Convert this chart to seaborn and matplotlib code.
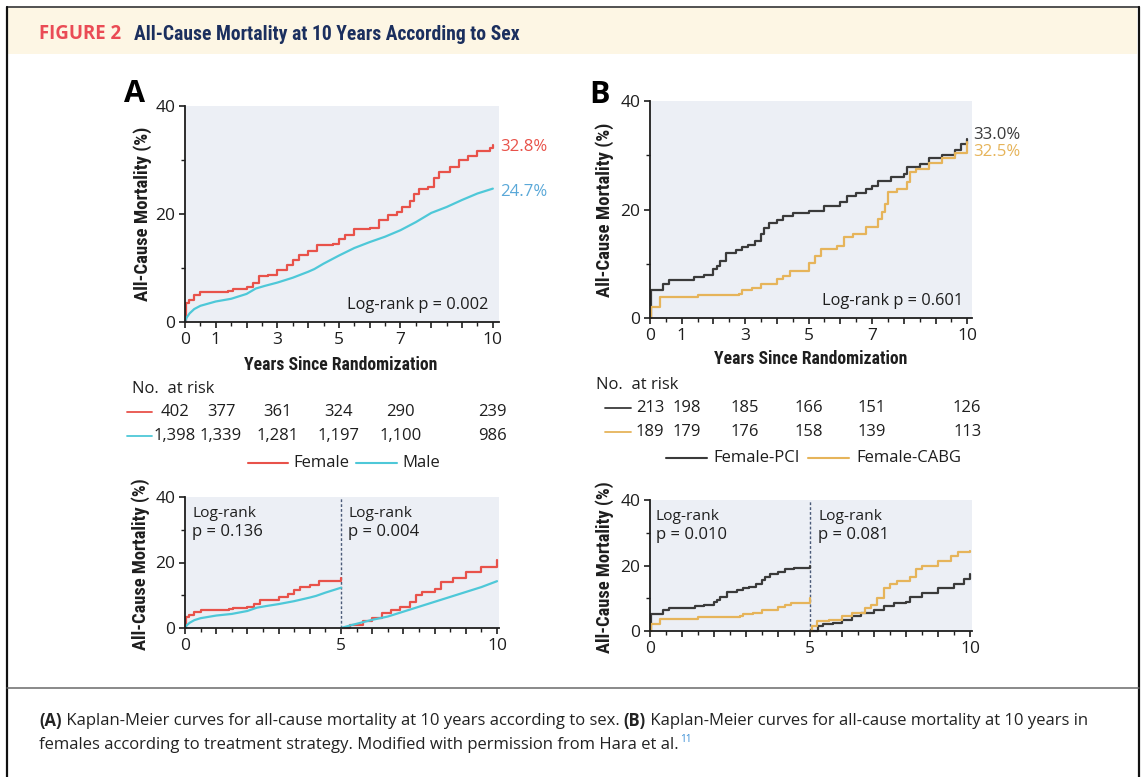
import numpy as np
import pandas as pd
import matplotlib
matplotlib.use("Agg")
import matplotlib.pyplot as plt
import matplotlib.transforms as mtrans
import seaborn as sns
from matplotlib import font_manager
from matplotlib.lines import Line2D
from matplotlib.patches import Rectangle
from matplotlib.ticker import FixedLocator, FixedFormatter

# ---------------------------------------------------------------- data
# Panel A: cumulative all-cause mortality (%) by sex, 0-10 years
female_years = [0, 0.03, 0.12, 0.3, 0.5, 1.0, 1.4, 1.55, 2.0, 2.2, 2.4, 2.7, 3.0, 3.3, 3.5,
                3.7, 4.0, 4.3, 4.8, 5.0, 5.2, 5.5, 6.0, 6.3, 6.6, 6.9, 7.05, 7.3, 7.45,
                7.6, 7.9, 8.1, 8.25, 8.6, 8.9, 9.2, 9.5, 9.9, 10.0]
female_mort = [0, 3.5, 4.0, 5.0, 5.5, 5.6, 5.8, 6.1, 6.5, 7.2, 8.5, 8.7, 9.6, 10.5, 11.5,
               12.5, 13.2, 14.2, 14.5, 15.3, 16.2, 17.2, 17.5, 18.8, 19.8, 20.4, 21.3, 22.5, 23.7,
               24.6, 25.0, 26.7, 27.8, 28.7, 30.0, 30.8, 31.7, 32.2, 32.8]
male_years = [0, 0.05, 0.15, 0.3, 0.5, 0.75, 1.0, 1.5, 2.0, 2.3, 2.6, 3.0, 3.5, 4.0, 4.2,
              4.5, 5.0, 5.5, 6.0, 6.5, 7.0, 7.5, 8.0, 8.5, 9.0, 9.5, 10.0]
male_mort = [0, 0.8, 1.6, 2.4, 3.0, 3.4, 3.8, 4.3, 5.2, 6.2, 6.7, 7.3, 8.2, 9.3, 9.8,
             10.8, 12.3, 13.7, 14.8, 15.8, 17.0, 18.5, 20.2, 21.3, 22.6, 23.8, 24.7]

# Panel B: females by treatment strategy, 0-10 years
pci_years = [0, 0.04, 0.4, 0.6, 1.4, 1.7, 2.0, 2.1, 2.2, 2.4, 2.7, 2.9, 3.1, 3.3, 3.5, 3.6,
             3.75, 4.0, 4.2, 4.5, 5.0, 5.5, 6.0, 6.2, 6.5, 6.8, 7.0, 7.2, 7.6, 8.0, 8.1,
             8.5, 8.8, 9.2, 9.6, 9.8, 10.0]
pci_mort = [0, 5.2, 6.3, 7.0, 7.5, 8.0, 9.0, 9.5, 10.5, 12.0, 12.5, 13.0, 13.5, 14.2, 15.5, 16.5,
            17.5, 18.0, 18.8, 19.3, 19.8, 20.6, 21.3, 22.5, 23.0, 23.7, 24.3, 25.2, 25.9, 26.5, 27.8,
            28.3, 29.5, 30.0, 31.0, 32.0, 33.0]
cabg_years = [0, 0.04, 0.3, 1.5, 2.8, 2.9, 3.2, 3.5, 4.0, 4.2, 4.4, 5.0, 5.2, 5.4, 5.9,
              6.1, 6.4, 6.8, 7.2, 7.3, 7.4, 7.5, 7.8, 8.1, 8.2, 8.4, 8.8, 9.2, 9.6, 10.0]
cabg_mort = [0, 2.0, 3.8, 4.3, 4.5, 5.2, 5.6, 6.3, 7.2, 7.8, 8.6, 10.2, 11.5, 12.8, 13.3,
             15.0, 15.5, 16.8, 18.2, 19.5, 21.0, 23.2, 23.8, 25.0, 27.0, 27.5, 28.5, 29.5, 30.5, 32.5]

# Landmark analysis: events restarted at year 5
female_late_years = [5.0, 5.3, 5.7, 6.0, 6.3, 6.6, 6.9, 7.2, 7.4, 7.6, 8.0, 8.2, 8.6, 9.0, 9.5, 10.0]
female_late_mort = [0, 1.0, 2.0, 3.0, 4.5, 5.5, 6.5, 8.0, 10.0, 11.0, 12.0, 14.0, 15.2, 17.0, 18.5, 20.7]
male_late_years = [5.0, 5.3, 6.0, 6.5, 7.0, 7.5, 8.0, 8.5, 9.0, 9.5, 10.0]
male_late_mort = [0, 0.8, 2.5, 3.5, 5.0, 6.5, 8.0, 9.5, 11.0, 12.5, 14.3]
pci_late_years = [5.0, 5.25, 5.4, 5.7, 6.0, 6.3, 6.6, 7.0, 7.3, 7.6, 8.0, 8.1, 8.5, 9.0, 9.5, 9.8, 10.0]
pci_late_mort = [0, 1.5, 2.0, 2.5, 3.5, 4.5, 5.5, 6.5, 7.5, 8.5, 9.0, 10.5, 11.5, 13.0, 14.5, 16.0, 17.3]
cabg_late_years = [5.0, 5.05, 5.2, 5.6, 6.0, 6.3, 6.7, 6.9, 7.1, 7.3, 7.5, 7.7, 8.1, 8.3, 8.5,
                   9.0, 9.4, 9.6, 10.0]
cabg_late_mort = [0, 1.5, 3.0, 3.5, 4.5, 5.5, 7.0, 8.0, 10.0, 13.0, 14.5, 15.3, 16.5, 19.0, 20.0,
                  21.5, 23.0, 24.0, 24.5]

# Numbers at risk
risk_years = [0, 1, 3, 5, 7, 10]
risk_female = [402, 377, 361, 324, 290, 239]
risk_male = [1398, 1339, 1281, 1197, 1100, 986]
risk_pci = [213, 198, 185, 166, 151, 126]
risk_cabg = [189, 179, 176, 158, 139, 113]

p_sex = "0.002"
p_treat = "0.601"
p_sex_landmark = ["0.136", "0.004"]
p_treat_landmark = ["0.010", "0.081"]

# ---------------------------------------------------------------- style
RED = "#e8524a"
CYAN = "#4ec8d8"
CYAN_TXT = "#5aa8d8"
DARK = "#3a3a3a"
GOLD = "#e6b45a"
BG = "#eceff5"
INK = "#1e1e1e"

sns.set_style("ticks")
available = {f.name for f in font_manager.fontManager.ttflist}


def pick(names, default):
    for n in names:
        if n in available:
            return n
    return default


BODY = pick(["Open Sans", "Noto Sans", "Lato", "Roboto"], "DejaVu Sans")
COND = pick(["Liberation Sans Narrow", "Roboto Condensed", "Open Sans Condensed"], BODY)
plt.rcParams["font.family"] = [BODY, "DejaVu Sans"]

W, H = 1142, 777
fig = plt.figure(figsize=(W / 100, H / 100), dpi=100)
fig.patch.set_facecolor("white")
renderer = fig.canvas.get_renderer()


def fx(x):
    return x / W


def fy(y):
    return 1 - y / H


def put(x, y, s, size, width=None, **kw):
    t = fig.text(fx(x), fy(y), s, fontsize=size, **kw)
    if width is not None:
        bb = t.get_window_extent(renderer)
        span = bb.height if kw.get("rotation", 0) == 90 else bb.width
        t.set_fontsize(size * width / span)
    return t


def put_runs(x, y, runs, size, width=None):
    def draw(sz):
        arts, cx = [], x
        for s, wgt, col in runs:
            t = fig.text(fx(cx), fy(y), s, fontsize=sz, fontweight=wgt, color=col,
                         family=[BODY, "DejaVu Sans"], ha="left", va="center")
            cx += t.get_window_extent(renderer).width
            arts.append(t)
        return arts, cx - x
    arts, total = draw(size)
    if width is None:
        return size, x + total
    for a in arts:
        a.remove()
    sz = size * width / total
    _, total = draw(sz)
    return sz, x + total


def axes_px(left, top, right, bottom):
    return fig.add_axes([fx(left), fy(bottom), (right - left) / W, (bottom - top) / H])


def style(ax, xmax, labeled):
    ax.set_facecolor(BG)
    ax.set_xlim(0, xmax)
    ax.set_ylim(0, 40)
    for s in ["top", "right"]:
        ax.spines[s].set_visible(False)
    for s in ["left", "bottom"]:
        ax.spines[s].set_linewidth(1.3)
        ax.spines[s].set_color(INK)
    ax.xaxis.set_major_locator(FixedLocator(list(range(11))))
    ax.xaxis.set_major_formatter(FixedFormatter([str(i) if i in labeled else "" for i in range(11)]))
    ax.xaxis.set_minor_locator(FixedLocator(list(np.arange(0.5, 10, 1.0))))
    ax.yaxis.set_major_locator(FixedLocator([0, 20, 40]))
    ax.yaxis.set_major_formatter(FixedFormatter(["0", "20", "40"]))
    ax.yaxis.set_minor_locator(FixedLocator([10, 30]))
    ax.tick_params(which="major", length=4.5, width=1.2, color=INK, labelsize=12.5,
                   labelcolor=INK, pad=2.5)
    ax.tick_params(which="minor", length=3, width=1.0, color=INK)
    ax.set_xlabel("")
    ax.set_ylabel("")


def curve(ax, years, mort, color, steps=True, lw=1.6):
    df = pd.DataFrame({"year": years, "mort": mort})
    kw = {"drawstyle": "steps-post"} if steps else {}
    sns.lineplot(data=df, x="year", y="mort", ax=ax, color=color, linewidth=lw,
                 errorbar=None, clip_on=False, **kw)
    ax.set_xlabel("")
    ax.set_ylabel("")


def upto5(years, mort):
    pairs = [(t, m) for t, m in zip(years, mort) if t <= 5.0]
    return [p[0] for p in pairs], [p[1] for p in pairs]


# ---------------------------------------------------------------- frame
fig.add_artist(Rectangle((fx(8), fy(54)), (1137 - 8) / W, (54 - 8) / H, transform=fig.transFigure,
                         facecolor="#fdf6e4", edgecolor="none", zorder=0))
for (x0, y0, x1, y1, c, lw) in [(7, 7, 1139, 7, "#555555", 2.0), (7, 7, 7, 777, "#111111", 2.2),
                                (1139, 7, 1139, 777, "#111111", 2.2), (7, 688, 1139, 688, "#666666", 1.5)]:
    fig.add_artist(Line2D([fx(x0), fx(x1)], [fy(y0), fy(y1)], transform=fig.transFigure,
                          color=c, linewidth=lw * 0.72))

put(39, 34, "FIGURE 2", 11, width=82, fontweight="bold", color="#ea4b55", va="center",
    family=[BODY, "DejaVu Sans"])
put(134, 34, "All-Cause Mortality at 10 Years According to Sex", 12, width=385,
    fontweight="bold", color="#1b2f5e", va="center", family=[COND, "DejaVu Sans"])

# ---------------------------------------------------------------- panel A (top)
axA = axes_px(185, 106, 499, 322)
style(axA, 10.2, [0, 1, 3, 5, 7, 10])
curve(axA, female_years, female_mort, RED)
curve(axA, male_years, male_mort, CYAN, steps=False)
put(135, 94, "A", 22, fontweight="bold", color="black", ha="center", va="center")
put(500, 147, f"{female_mort[-1]:.1f}%", 12.5, width=47, color=RED, va="center")
put(500, 192, f"{male_mort[-1]:.1f}%", 12.5, width=47, color=CYAN_TXT, va="center")
put(488, 305, f"Log-rank p = {p_sex}", 12, width=141, color=INK, ha="right", va="center")
put(341, 365, "Years Since Randomization", 12, width=193, fontweight="bold", color=INK,
    ha="center", va="center", family=[COND, "DejaVu Sans"])
put(143, 214, "All-Cause Mortality (%)", 12, width=175, fontweight="bold", color=INK,
    ha="center", va="center", rotation=90, family=[COND, "DejaVu Sans"])

# ---------------------------------------------------------------- panel B (top)
axB = axes_px(650, 101, 972, 318)
style(axB, 10.15, [0, 1, 3, 5, 7, 10])
curve(axB, pci_years, pci_mort, DARK)
curve(axB, cabg_years, cabg_mort, GOLD)
put(599, 95, "B", 22, fontweight="bold", color="black", ha="center", va="center")
put(973, 135, f"{pci_mort[-1]:.1f}%", 12.5, width=47, color=DARK, va="center")
put(973, 152, f"{cabg_mort[-1]:.1f}%", 12.5, width=47, color=GOLD, va="center")
put(963, 301, f"Log-rank p = {p_treat}", 12, width=141, color=INK, ha="right", va="center")
put(811, 359, "Years Since Randomization", 12, width=193, fontweight="bold", color=INK,
    ha="center", va="center", family=[COND, "DejaVu Sans"])
put(605, 210, "All-Cause Mortality (%)", 12, width=175, fontweight="bold", color=INK,
    ha="center", va="center", rotation=90, family=[COND, "DejaVu Sans"])

# ---------------------------------------------------------------- numbers at risk
def risk_table(ax, cols, rows, ys, mark_x, head_xy):
    put(head_xy[0], head_xy[1], "No.  at risk", 12, color=INK, va="center")
    trans = mtrans.blended_transform_factory(ax.transData, fig.transFigure)
    for (vals, color), y in zip(rows, ys):
        fig.add_artist(Line2D([fx(mark_x[0]), fx(mark_x[1])], [fy(y), fy(y)],
                              transform=fig.transFigure, color=color, linewidth=1.3))
        for c, v in zip(cols, vals):
            fig.text(c, fy(y), f"{v:,}", transform=trans, fontsize=12, color=INK,
                     ha="center", va="center")


colsA = [-0.32, 1.17] + risk_years[2:]
colsB = [0, 1.17] + risk_years[2:]
risk_table(axA, colsA, [(risk_female, RED), (risk_male, CYAN)], [412, 436], (127, 152), (132, 389))
risk_table(axB, colsB, [(risk_pci, DARK), (risk_cabg, GOLD)], [408, 432], (605, 631), (596, 385))


def legend_row(y, items):
    for (x0, x1, tx, label, color) in items:
        fig.add_artist(Line2D([fx(x0), fx(x1)], [fy(y), fy(y)], transform=fig.transFigure,
                              color=color, linewidth=1.5))
        put(tx, y, label, 12, color=INK, va="center")


legend_row(463, [(248, 288, 293, "Female", RED), (356, 397, 402, "Male", CYAN)])
legend_row(458, [(666, 707, 713, "Female-PCI", DARK), (808, 849, 856, "Female-CABG", GOLD)])

# ---------------------------------------------------------------- landmark panels
def landmark(ax, early, late, pvals, text_x, base_y):
    style(ax, 10.05, [0, 5, 10])
    for (yrs, mort, color, steps) in early:
        t, m = upto5(yrs, mort)
        curve(ax, t, m, color, steps=steps)
    for (yrs, mort, color, steps) in late:
        curve(ax, yrs, mort, color, steps=steps)
    ax.axvline(5, color="#4a5a78", linewidth=1.0, linestyle=(0, (2, 1.5)), zorder=1)
    for x, p in zip(text_x, pvals):
        put(x, base_y[0], "Log-rank", 12, width=63, color=INK, va="baseline")
        put(x, base_y[1], f"p = {p}", 12, width=None, color=INK, va="baseline")


axC = axes_px(185, 497, 498.6, 628)
landmark(axC,
         [(female_years, female_mort, RED, True), (male_years, male_mort, CYAN, False)],
         [(female_late_years, female_late_mort, RED, True), (male_late_years, male_late_mort, CYAN, False)],
         p_sex_landmark, [192, 348], [517, 536])
put(141, 564, "All-Cause Mortality (%)", 12, width=172, fontweight="bold", color=INK,
    ha="center", va="center", rotation=90, family=[COND, "DejaVu Sans"])

axD = axes_px(650, 500, 972, 631)
landmark(axD,
         [(pci_years, pci_mort, DARK, True), (cabg_years, cabg_mort, GOLD, True)],
         [(pci_late_years, pci_late_mort, DARK, True), (cabg_late_years, cabg_late_mort, GOLD, True)],
         p_treat_landmark, [656, 818], [520, 539])
put(605, 567, "All-Cause Mortality (%)", 12, width=172, fontweight="bold", color=INK,
    ha="center", va="center", rotation=90, family=[COND, "DejaVu Sans"])

# ---------------------------------------------------------------- caption
cap = "#222222"
sz, _ = put_runs(39, 721, [("(A)", "bold", cap),
                           (" Kaplan-Meier curves for all-cause mortality at 10 years according to sex. ", "normal", cap),
                           ("(B)", "bold", cap),
                           (" Kaplan-Meier curves for all-cause mortality at 10 years in", "normal", cap)],
                 11, width=1055)
_, xend = put_runs(39, 745, [("females according to treatment strategy. Modified with permission from Hara et al.",
                              "normal", cap)], sz)
fig.text(fx(xend + 1), fy(739), "11", fontsize=sz * 0.6, color="#3b8fd6", ha="left", va="center")

fig.savefig("out.png", dpi=100, facecolor="white")
